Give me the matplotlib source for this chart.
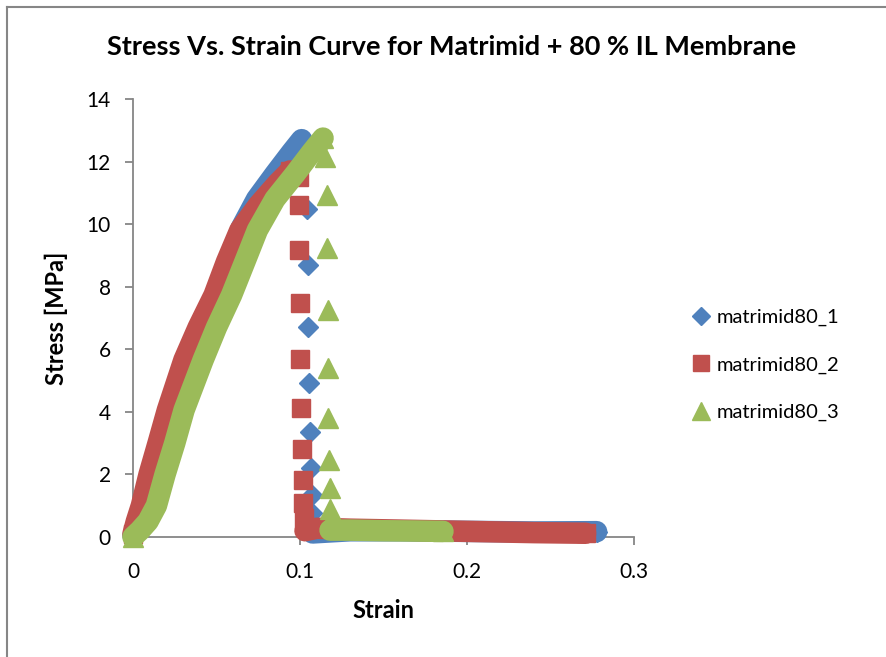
import matplotlib
matplotlib.use("Agg")
import matplotlib.pyplot as plt
from matplotlib.lines import Line2D

plt.rcParams['font.family'] = ['Lato', 'DejaVu Sans']

# ---------------- data ----------------
title = "Stress Vs. Strain Curve for Matrimid + 80 % IL Membrane"
x_label = "Strain"
y_label = "Stress [MPa]"
series_names = ["matrimid80_1", "matrimid80_2", "matrimid80_3"]
x_ticks = [0, 0.1, 0.2, 0.3]
x_tick_labels = ["0", "0.1", "0.2", "0.3"]
y_ticks = [0, 2, 4, 6, 8, 10, 12, 14]
y_tick_labels = ["0", "2", "4", "6", "8", "10", "12", "14"]

# matrimid80_1 (blue diamonds)
s1_rise_x = [0.0, 0.006, 0.013, 0.025, 0.036, 0.05, 0.058, 0.065, 0.074, 0.085, 0.095, 0.101]
s1_rise_y = [0.05, 1.0, 2.0, 4.0, 5.6, 7.7, 8.9, 9.9, 10.8, 11.6, 12.3, 12.7]
s1_drop_x = [0.104, 0.1045, 0.105, 0.1055, 0.106, 0.1065, 0.107, 0.107]
s1_drop_y = [10.5, 8.69, 6.72, 4.91, 3.37, 2.20, 1.34, 0.76]
s1_tail_x = [0.1075, 0.13, 0.16, 0.2, 0.24, 0.2776]
s1_tail_y = [0.13, 0.2, 0.2, 0.18, 0.16, 0.17]

# matrimid80_2 (red squares)
s2_rise_x = [0.0, 0.002, 0.005, 0.0096, 0.015, 0.0206, 0.0305, 0.039, 0.0485, 0.056, 0.064, 0.075, 0.0865, 0.094]
s2_rise_y = [0.1, 0.5, 1.0, 2.0, 3.0, 4.06, 5.66, 6.7, 7.73, 8.8, 9.81, 10.6, 11.3, 11.7]
s2_drop_x = [0.0992, 0.0995, 0.0997, 0.1, 0.1, 0.1005, 0.101, 0.1015, 0.102, 0.1025]
s2_drop_y = [11.5, 10.6, 9.17, 7.47, 5.68, 4.11, 2.80, 1.82, 1.10, 0.6]
s2_tail_x = [0.103, 0.11, 0.13, 0.16, 0.2, 0.24, 0.271]
s2_tail_y = [0.2, 0.28, 0.25, 0.22, 0.18, 0.14, 0.12]

# matrimid80_3 (green triangles)
s3_rise_x = [0.0, 0.004, 0.009, 0.014, 0.0192, 0.025, 0.0306, 0.042, 0.05, 0.059, 0.067, 0.0745, 0.085, 0.097, 0.107, 0.1138]
s3_rise_y = [0.0, 0.2, 0.5, 1.0, 2.0, 3.0, 4.06, 5.66, 6.7, 7.73, 8.8, 9.81, 10.8, 11.6, 12.3, 12.75]
s3_drop_x = [0.115, 0.116, 0.116, 0.1165, 0.117, 0.117, 0.1175, 0.118, 0.118, 0.118]
s3_drop_y = [12.15, 10.93, 9.23, 7.25, 5.39, 3.79, 2.46, 1.56, 0.89, 0.5]
s3_tail_x = [0.118, 0.13, 0.15, 0.17, 0.1856]
s3_tail_y = [0.22, 0.22, 0.2, 0.19, 0.18]

colors = ["#4F81BD", "#C0504D", "#9BBB59"]
markers = ["D", "s", "^"]
msizes = [10.5, 13, 14.5]

series = [
    (s1_rise_x, s1_rise_y, s1_drop_x, s1_drop_y, s1_tail_x, s1_tail_y),
    (s2_rise_x, s2_rise_y, s2_drop_x, s2_drop_y, s2_tail_x, s2_tail_y),
    (s3_rise_x, s3_rise_y, s3_drop_x, s3_drop_y, s3_tail_x, s3_tail_y),
]

# ---------------- figure ----------------
W, H = 886, 657
fig = plt.figure(figsize=(W / 100, H / 100), dpi=100)
ax = fig.add_axes([133 / W, 1 - 537 / H, (634 - 133) / W, (537 - 99) / H])

band_lw = 15.5
for i, (rx, ry, dx, dy, tx, ty) in enumerate(series):
    z = 3 + i
    c = colors[i]
    ax.plot(rx, ry, color=c, lw=band_lw, solid_capstyle="round", solid_joinstyle="round",
            marker=markers[i], ms=msizes[i], markevery=[0, len(rx) - 1],
            mec=c, mfc=c, zorder=z, clip_on=False)
    ax.plot(dx, dy, ls="none", marker=markers[i], ms=msizes[i], mec=c, mfc=c,
            zorder=z, clip_on=False)
    ax.plot(tx, ty, color=c, lw=band_lw, solid_capstyle="round", solid_joinstyle="round",
            marker=markers[i], ms=msizes[i], markevery=[len(tx) - 1],
            mec=c, mfc=c, zorder=z, clip_on=False)

ax.set_xlim(0, 0.3)
ax.set_ylim(0, 14)
ax.set_xticks(x_ticks)
ax.set_xticklabels(x_tick_labels)
ax.set_yticks(y_ticks)
ax.set_yticklabels(y_tick_labels)

for s in ["top", "right"]:
    ax.spines[s].set_visible(False)
for s in ["left", "bottom"]:
    ax.spines[s].set_color("#868686")
    ax.spines[s].set_linewidth(1.3)
ax.tick_params(axis="both", direction="out", length=6, width=1.3, color="#868686",
               labelsize=15, labelcolor="black")
ax.tick_params(axis="y", pad=10)
ax.tick_params(axis="x", pad=12)
ax.set_xlabel(x_label, fontsize=17, fontweight="bold", labelpad=12)
ax.set_ylabel(y_label, fontsize=17, fontweight="bold", labelpad=13)

fig.text(452 / W, 1 - 47 / H, title, ha="center", va="center", fontsize=19.5, fontweight="bold")

handles = [Line2D([], [], ls="none", marker=markers[i], ms=msizes[i] * 0.85, mfc=colors[i], mec=colors[i])
           for i in range(3)]
fig.legend(handles, series_names, loc="center left", bbox_to_anchor=(693 / W, 1 - 365 / H),
           frameon=False, fontsize=14.5, handlelength=0.8, handletextpad=0.35,
           labelspacing=1.5, borderpad=0, borderaxespad=0)

# chart-area border (left and top edges visible)
fig.add_artist(Line2D([7 / W, 7 / W], [0, 1 - 7 / H], transform=fig.transFigure, color="#868686", lw=1.5))
fig.add_artist(Line2D([7 / W, 1], [1 - 7 / H, 1 - 7 / H], transform=fig.transFigure, color="#868686", lw=1.5))

fig.savefig("out.png", dpi=100)
